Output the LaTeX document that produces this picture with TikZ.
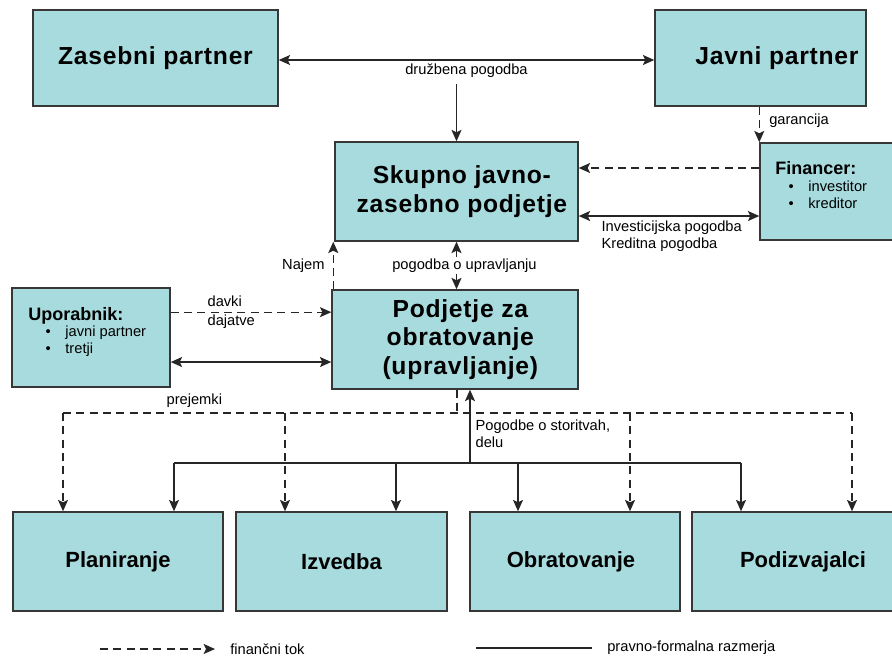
\documentclass[tikz,border=0pt]{standalone}
\usepackage{fontspec}
\setmainfont{Liberation Sans}
\newfontfamily\widefont[LetterSpace=3]{Liberation Sans}
\usetikzlibrary{arrows.meta,fit}
\definecolor{boxfill}{RGB}{168,219,222}
\definecolor{boxline}{RGB}{55,55,55}
\tikzstyle{box}=[draw=boxline,fill=boxfill,line width=1.1pt,inner sep=0pt]
\tikzstyle{ttl}=[font=\fontsize{16.5}{21.5}\selectfont\bfseries,align=center]
\tikzstyle{bigttl}=[font=\widefont\fontsize{18.5}{21.5}\selectfont\bfseries,align=center]
\tikzstyle{head}=[font=\fontsize{13.5}{16}\selectfont\bfseries,anchor=west,inner sep=0pt]
\tikzstyle{lbl}=[font=\fontsize{11}{12.75}\selectfont,inner sep=1pt]
\tikzstyle{rel}=[line width=1pt,draw=black!85,>={Stealth[length=8.5pt,width=7.5pt,inset=1.8pt]}]
\tikzstyle{fin}=[rel,dash pattern=on 6pt off 4pt]

\begin{document}
\begin{tikzpicture}[x=0.75pt,y=-0.75pt]
  \useasboundingbox (0,0) rectangle (892,660);
  \clip (0,0) rectangle (892,660);
  % partnerji in podjetja
  \node(zas)[box,fit={(33,10)(278,106)}]{};
  \node(zast)[bigttl] at (zas.center){Zasebni partner};
  \node(jav)[box,fit={(655,10)(866,106)}]{};
  \node(javt)[bigttl] at (777,58){Javni partner};
  \node(sku)[box,fit={(335,142)(578,241)}]{};
  \node(skut)[bigttl] at ([xshift=4pt]sku.center){Skupno javno-\\zasebno podjetje};
  \node(fin)[box,fit={(760,143)(900,240)}]{};
  \node(fint)[head] at (775,168){Financer:};
  \node(fin1)[lbl,anchor=west] at (787,186){\textbullet\hspace{11pt}investitor};
  \node(fin2)[lbl,anchor=west] at (787,203){\textbullet\hspace{11pt}kreditor};
  \node(upo)[box,fit={(12,288)(170,387)}]{};
  \node(upot)[head] at (28,316){Uporabnik:};
  \node(upo1)[lbl,anchor=west] at (44,333){\textbullet\hspace{11pt}javni partner};
  \node(upo2)[lbl,anchor=west] at (44,350){\textbullet\hspace{11pt}tretji};
  \node(pod)[box,fit={(332,290)(578,389)}]{};
  \node(podt)[bigttl] at ([xshift=4pt]pod.center){Podjetje za\\obratovanje\\(upravljanje)};
  \node(plan)[box,fit={(13,512)(223,611)}]{};
  \node(plant)[ttl] at (plan.center){Planiranje};
  \node(izv)[box,fit={(236,512)(447,611)}]{};
  \node(izvt)[ttl] at (izv.center){Izvedba};
  \node(obr)[box,fit={(470,512)(680,611)}]{};
  \node(obrt)[ttl] at ([xshift=-3pt]obr.center){Obratovanje};
  \node(podiz)[box,fit={(692,512)(914,611)}]{};
  \node(podizt)[ttl] at (podiz.center){Podizvajalci};

  % zgornji del
  \draw[rel,<->] ([yshift=-1.5pt]zas.east) -- ([yshift=-1.5pt]zas.east -| jav.west)
    node(dp)[lbl,midway,below=1pt]{družbena pogodba};
  \draw[rel,->] ([yshift=-4pt]dp.south -| sku.north) -- (sku.north);
  \draw[fin,->] (fin.north west |- jav.south) -- (fin.north west)
    node[lbl,pos=0.4,right=6pt]{garancija};
  \draw[fin,->] (fin.west |- fint) -- (fint -| sku.east);
  \draw[rel,<->] ([yshift=-18.4pt]sku.east) -- ([yshift=-18.4pt]sku.east -| fin.west);
  \node(ivt)[lbl,align=left,anchor=north west] at (600,219){Investicijska pogodba\\Kreditna pogodba};

  % srednji del
  \draw[fin,->] ([xshift=1.5pt]pod.north west) -- ([xshift=1.5pt]pod.north west |- sku.south)
    node[lbl,midway,left=5pt]{Najem};
  \draw[rel,<->] (sku.south) -- (sku.south |- pod.north)
    node(pou)[lbl,midway,xshift=6pt,fill=white]{pogodba o upravljanju};
  \draw[fin,->] ([yshift=19pt]upo.east) -- ([yshift=19pt]upo.east -| pod.west);
  \node(dav)[lbl,anchor=west] at (206,301){davki};
  \node(daj)[lbl,anchor=west] at (206,322){dajatve};
  \draw[rel,<->] ([yshift=-18.4pt]upo.east) -- ([yshift=-18.4pt]upo.east -| pod.west);

  % financni tok navzdol
  \coordinate(pl) at (63,413);
  \coordinate(pi) at (285,413);
  \coordinate(po) at (630,413);
  \coordinate(pr) at (852,413);
  \draw[fin] ([xshift=1.5pt]pod.south) -- ([xshift=1.5pt]pod.south |- pl);
  \draw[fin] (pl) -- (pr);
  \node(prj)[lbl,anchor=west] at (165,401){prejemki};
  \foreach \c/\b in {pl/plan,pi/izv,po/obr,pr/podiz}
    \draw[fin,->] (\c) -- (\c |- \b.north);

  % pogodbe o storitvah
  \coordinate(sl) at (174,463);
  \coordinate(si) at (396,463);
  \coordinate(su) at (470,463);
  \coordinate(so) at (518,463);
  \coordinate(sr) at (741,463);
  \draw[rel] (sl) -- (sr);
  \draw[rel,->] (su) -- (su |- pod.south);
  \node(pgs)[lbl,anchor=north west,align=left] at (474,418){Pogodbe o storitvah,\\delu};
  \foreach \c/\b in {sl/plan,si/izv,so/obr,sr/podiz}
    \draw[rel,->] (\c) -- (\c |- \b.north);

  % legenda
  \coordinate(l1) at (100,649);
  \coordinate(l2) at (215,649);
  \coordinate(l3) at (476,648);
  \coordinate(l4) at (592,648);
  \draw[fin,->] (l1) -- (l2) node(lf)[lbl,right=10pt]{finančni tok};
  \draw[rel] (l3) -- (l4) node(lp)[lbl,right=10pt]{pravno-formalna razmerja};
\end{tikzpicture}
\end{document}
